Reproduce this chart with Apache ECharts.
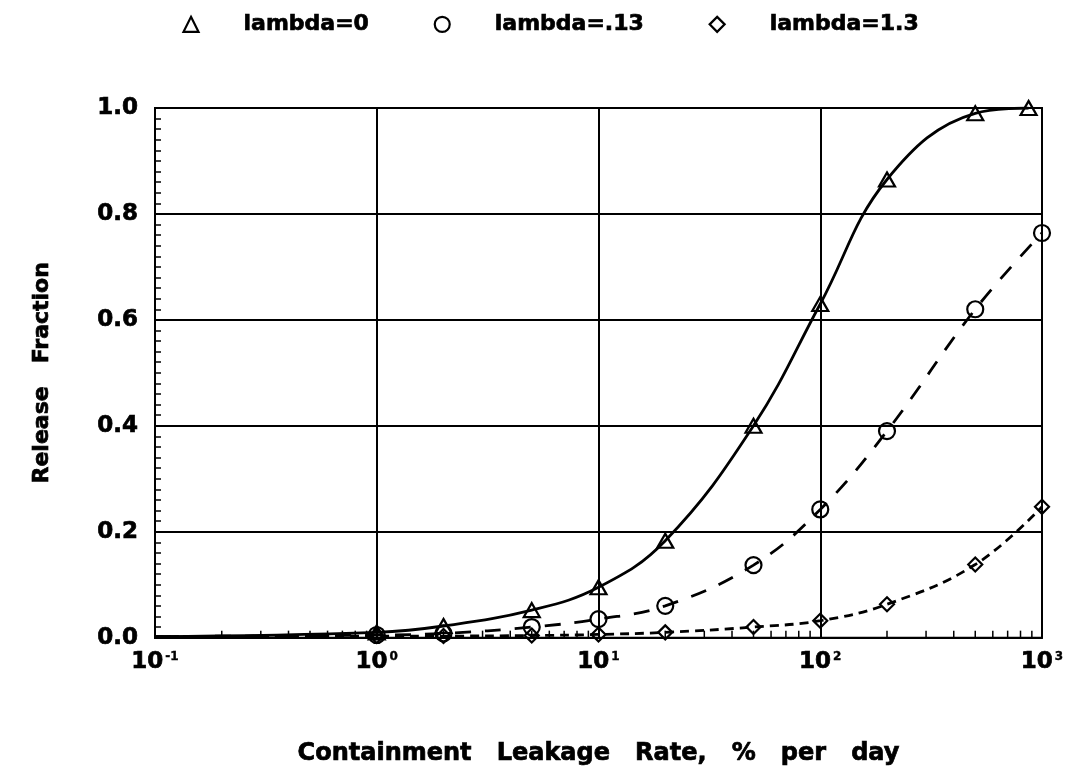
<!DOCTYPE html>
<html>
<head>
<meta charset="utf-8">
<script src="https://cdn.jsdelivr.net/npm/echarts@6/dist/echarts.min.js"></script>
<style>
  html, body { margin: 0; padding: 0; background: #fff; }
  #chart { width: 1072px; height: 771px; }
</style>
</head>
<body>
<div id="chart"></div>
<script>
// Containment leakage rate (% per day) at which each release fraction was computed
const rateTri = [1, 2, 5, 10, 20, 50, 100, 200, 500, 870];
const rateCirc = [1, 2, 5, 10, 20, 50, 100, 200, 500, 1000];
const rateDia = [1, 2, 5, 10, 20, 50, 100, 200, 500, 1000];

// Release fractions for the three removal constants
const relLambda0 = [0.010, 0.022, 0.052, 0.095, 0.183, 0.400, 0.630, 0.865, 0.990, 1.000];
const relLambda013 = [0.005, 0.008, 0.020, 0.035, 0.060, 0.137, 0.242, 0.390, 0.620, 0.764];
const relLambda13 = [0.003, 0.003, 0.004, 0.006, 0.010, 0.020, 0.032, 0.063, 0.138, 0.247];

// Where each fitted curve begins at the left edge of the axis
const curveStart = [0.1, 0.002];

const seriesNames = ['lambda=0', 'lambda=.13', 'lambda=1.3'];

// Log-axis decades and the intermediate minor tick values
const decades = [0.1, 1, 10, 100, 1000];
const minorTicks = [];
for (let d = 0; d < decades.length - 1; d++) {
  for (let k = 2; k <= 9; k++) minorTicks.push(decades[d] * k);
}

const pairs = (xs, ys) => xs.map((x, i) => [x, ys[i]]);

// Heavy black lettering: bold face plus a thin outline of the same colour
const heavy = size => ({
  fontFamily: 'DejaVu Sans', fontWeight: 'bold', fontSize: size, color: '#000',
  textBorderColor: '#000', textBorderWidth: 0.7
});

const markerStyle = { color: 'none', borderColor: '#000', borderWidth: 2.2, opacity: 1 };

const chart = echarts.init(document.getElementById('chart'), null, { renderer: 'canvas' });

chart.setOption({
  animation: false,
  backgroundColor: '#fff',
  legend: {
    top: 8,
    left: 176,
    itemGap: 63,
    itemWidth: 15,
    itemHeight: 15,
    data: [
      { name: seriesNames[0], icon: 'triangle' },
      { name: seriesNames[1], icon: 'circle' },
      { name: seriesNames[2], icon: 'diamond' }
    ],
    itemStyle: { color: 'none', borderColor: '#000', borderWidth: 2.2, opacity: 1 },
    formatter: name => '{gap|}{t|' + name + '}',
    textStyle: {
      rich: {
        gap: { width: 40 },
        t: heavy(22)
      }
    }
  },
  grid: {
    left: 155, right: 30, top: 108, bottom: 132,
    show: true, borderColor: '#000', borderWidth: 2
  },
  xAxis: {
    type: 'log',
    logBase: 10,
    min: 0.1,
    max: 1000,
    name: 'Containment   Leakage   Rate,   %   per   day',
    nameLocation: 'middle',
    nameGap: 104,
    nameTextStyle: heavy(24),
    axisLine: { lineStyle: { color: '#000', width: 2 } },
    axisTick: { show: false },
    splitLine: { show: true, lineStyle: { color: '#000', width: 2 } },
    axisLabel: {
      margin: 13,
      formatter: v => '{b|10}{s|' + Math.round(Math.log10(v)) + '}',
      rich: {
        b: heavy(23),
        s: Object.assign(heavy(12), { verticalAlign: 'top', padding: [0, 0, 0, 2], textBorderWidth: 0.4 })
      }
    }
  },
  yAxis: {
    type: 'value',
    min: 0,
    max: 1,
    interval: 0.2,
    name: 'Release   Fraction',
    nameLocation: 'middle',
    nameGap: 102,
    nameTextStyle: heavy(22),
    axisLine: { show: true, lineStyle: { color: '#000', width: 2 } },
    axisTick: { show: true, inside: true, length: 6, lineStyle: { color: '#000', width: 2 } },
    minorTick: { show: true, splitNumber: 10, length: 6, lineStyle: { color: '#000', width: 1.5 } },
    splitLine: { show: true, lineStyle: { color: '#000', width: 2 } },
    axisLabel: Object.assign({ margin: 17, formatter: v => v.toFixed(1) }, heavy(23))
  },
  series: [
    // Minor ticks along the bottom of the log axis, pointing into the plot
    {
      type: 'custom',
      silent: true,
      data: minorTicks.map(v => [v, 0]),
      renderItem: (params, api) => {
        const p = api.coord([api.value(0), 0]);
        return {
          type: 'line',
          shape: { x1: p[0], y1: p[1], x2: p[0], y2: p[1] - 7 },
          style: { stroke: '#000', lineWidth: 1.5 }
        };
      },
      z: 1
    },
    // Fitted curves
    {
      type: 'line', smooth: 0.4, symbol: 'none', silent: true,
      data: [curveStart].concat(pairs(rateTri, relLambda0)),
      lineStyle: { color: '#000', width: 2.8, type: 'solid' }, z: 2
    },
    {
      type: 'line', smooth: 0.4, symbol: 'none', silent: true,
      data: [curveStart].concat(pairs(rateCirc, relLambda013)),
      lineStyle: { color: '#000', width: 2.8, type: [16, 14] }, z: 2
    },
    {
      type: 'line', smooth: 0.4, symbol: 'none', silent: true,
      data: [curveStart].concat(pairs(rateDia, relLambda13)),
      lineStyle: { color: '#000', width: 2.8, type: [9, 6] }, z: 2
    },
    // Computed points
    {
      name: seriesNames[0], type: 'scatter', symbol: 'triangle', symbolSize: [16, 14],
      data: pairs(rateTri, relLambda0), itemStyle: markerStyle, z: 3
    },
    {
      name: seriesNames[1], type: 'scatter', symbol: 'circle', symbolSize: 16,
      data: pairs(rateCirc, relLambda013), itemStyle: markerStyle, z: 3
    },
    {
      name: seriesNames[2], type: 'scatter', symbol: 'diamond', symbolSize: 14,
      data: pairs(rateDia, relLambda13), itemStyle: markerStyle, z: 3
    }
  ]
});
</script>
</body>
</html>
